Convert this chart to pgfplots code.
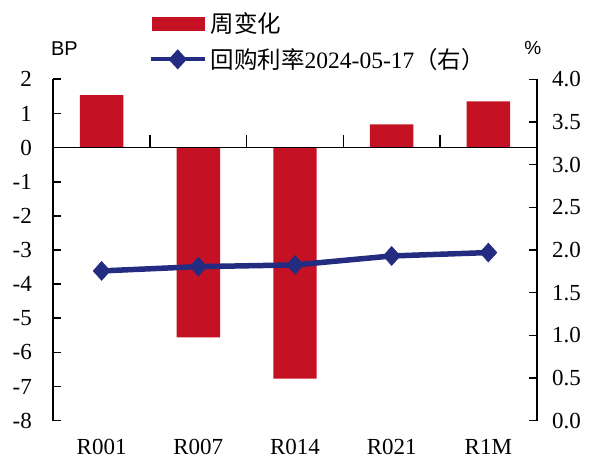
\documentclass[border=0pt]{standalone}
\usepackage{pgfplots}
\usepackage{pgfplotstable}
\pgfplotsset{compat=1.18}
\usepackage{fontspec}
\setmainfont{Liberation Serif}
\setsansfont{Liberation Sans}
\newfontfamily\cjk{Noto Sans CJK SC}

\definecolor{barred}{RGB}{196,18,36}
\definecolor{linenavy}{RGB}{35,44,128}

% weekly change (BP, left) and repo rate on 2024-05-17 (%, right)
\pgfplotstableread{
idx chg   rate
0    1.54 1.755
1   -5.56 1.805
2   -6.77 1.825
3    0.68 1.930
4    1.35 1.970
}\repodata

\pgfplotsset{
  chartbase/.style={
    at={(0,0)}, anchor=south west,
    scale only axis, width=483.4pt, height=341.4pt,
    xmin=-0.5, xmax=4.5, clip=false,
    tick align=inside, major tick length=8pt,
    tick style={black, line width=1.6pt},
    axis line style={black, line width=1.6pt, -},
    /pgf/number format/assume math mode=true,
    tick label style={font=\fontsize{23}{27}\selectfont},
  }
}

\begin{document}
\begin{tikzpicture}
% left axis: bars
\begin{axis}[chartbase,
  ymin=-8, ymax=2, ytick={-8,-7,...,2},
  axis x line*=bottom, axis y line*=left,
  x axis line style={draw=none},
  xtick={0,...,4}, xticklabels={R001,R007,R014,R021,R1M},
  xtick style={draw=none},
  yticklabel style={xshift=-18pt},
  xticklabel style={yshift=-15pt},
  ylabel={BP},
  y label style={at={(axis description cs:0.023,1.091)}, rotate=-90, anchor=center,
    font=\sffamily\fontsize{20}{22}\selectfont},
]
\addplot[ybar, bar width=43.4pt, fill=barred, draw=none] table[x=idx, y=chg] {\repodata};
% zero line with category separators
\draw[black, line width=1.6pt] (axis cs:-0.5,0) -- (axis cs:4.5,0);
\pgfplotsinvokeforeach{0.5,1.5,2.5,3.5}{
  \draw[black, line width=1.6pt] (axis cs:#1,0) -- ++(0pt,13pt);
}
\end{axis}
% right axis: repo rate line
\begin{axis}[chartbase,
  ymin=0, ymax=4, ytick={0,0.5,...,4},
  axis x line=none, axis y line*=right,
  yticklabel style={xshift=12pt, /pgf/number format/.cd, fixed, fixed zerofill, precision=1},
  ylabel={\%},
  y label style={at={(axis description cs:0.992,1.091)}, rotate=-90, anchor=center,
    font=\sffamily\fontsize{19}{21}\selectfont},
  legend style={at={(axis description cs:0.197,1.196)}, anchor=north west,
    draw=none, fill=none, inner sep=0pt, row sep=14.5pt, column sep=4pt,
    font=\fontsize{23.5}{27}\selectfont, nodes={inner sep=0pt, anchor=west}},
  legend cell align=left,
]
\addlegendimage{legend image code/.code={\fill[barred] (1.8pt,-6.5pt) rectangle (53.3pt,6.5pt);}}
\addlegendentry{\cjk 周变化}
\addplot[linenavy, line width=5.5pt, mark=diamond*, mark size=9.5pt,
  mark options={line width=0.5pt, xscale=1.2},
  legend image code/.code={
    \draw[linenavy, line width=4pt] (0pt,0pt) -- (54pt,0pt);
    \fill[linenavy] (27pt,6pt) -- (32.5pt,0pt) -- (27pt,-6pt) -- (21.5pt,0pt) -- cycle;}]
  table[x=idx, y=rate] {\repodata};
\addlegendentry{{\cjk 回购利率}2024-05-17{\cjk （右）}}
\end{axis}
\pgfresetboundingbox
\useasboundingbox (-53.3pt,-40.3pt) rectangle (536.7pt,420.7pt);
\end{tikzpicture}
\end{document}
